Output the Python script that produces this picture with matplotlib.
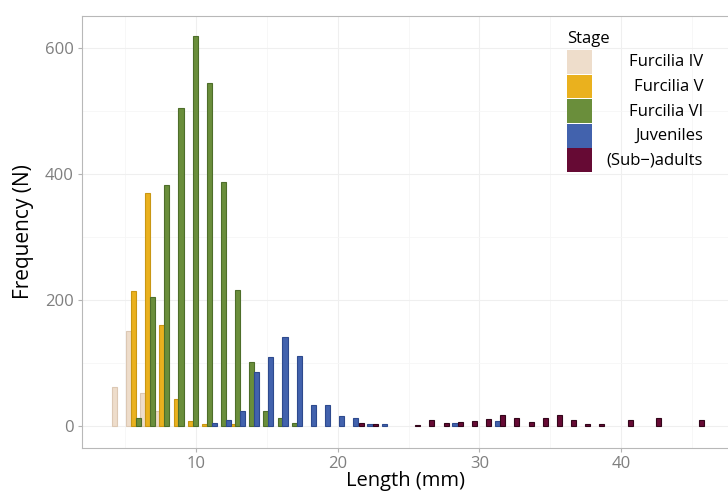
import numpy as np
import matplotlib.pyplot as plt
from matplotlib.patches import Rectangle

plt.rcParams['font.family'] = ['Open Sans', 'DejaVu Sans']

# length bins (mm) and counts per stage
stages = ["Furcilia IV", "Furcilia V", "Furcilia VI", "Juveniles", "(Sub\u2212)adults"]

len_f4 = [4, 5, 6, 7]
n_f4 = [62, 150, 53, 24]

len_f5 = [5, 6, 7, 8, 9, 10, 12]
n_f5 = [215, 370, 160, 43, 8, 3, 3]

len_f6 = [6, 7, 8, 9, 10, 11, 12, 13, 14, 15, 16, 17]
n_f6 = [12, 205, 382, 505, 620, 545, 388, 216, 102, 23, 13, 4]

len_juv = [11, 12, 13, 14, 15, 16, 17, 18, 19, 20, 21, 22, 23, 28, 31]
n_juv = [4, 10, 23, 85, 110, 141, 111, 33, 33, 16, 12, 3, 3, 4, 8]

len_ad = [21, 22, 25, 26, 27, 28, 29, 30, 31, 32, 33, 34, 35, 36, 37, 38, 40, 42, 45]
n_ad = [4, 3, 2, 10, 5, 7, 8, 11, 17, 12, 6, 12, 17, 10, 3, 3, 10, 12, 9]

lengths = [len_f4, len_f5, len_f6, len_juv, len_ad]
counts = [n_f4, n_f5, n_f6, n_juv, n_ad]

fills = ["#EEDDCB", "#EAB11E", "#6A8E3B", "#4262AD", "#660A34"]
edges = ["#DCC8B4", "#C99714", "#4E6E2A", "#2E4A8E", "#33051A"]
# dodge offset of each stage inside a length bin
offsets = [0.25, 0.6, -0.06, 0.28, 0.65]

fig = plt.figure(figsize=(7.28, 4.92), dpi=100)
ax = fig.add_axes([82 / 728, 44 / 492, 646 / 728, 432 / 492])

for L, N, fc, ec, off in zip(lengths, counts, fills, edges, offsets):
    ax.bar(np.array(L) + off, N, width=0.36, color=fc, edgecolor=ec,
           linewidth=0.8, zorder=3)

ax.set_xlim(1.95, 47.55)
ax.set_ylim(-35, 651)
ax.set_xticks([10, 20, 30, 40])
ax.set_xticks([5, 15, 25, 35, 45], minor=True)
ax.set_yticks([0, 200, 400, 600])
ax.set_yticks([100, 300, 500], minor=True)
ax.grid(which='major', color='#EFEFEF', linewidth=0.8, zorder=0)
ax.grid(which='minor', color='#F6F6F6', linewidth=0.6, zorder=0)
ax.tick_params(which='major', length=3, color='#B3B3B3', labelcolor='#7F7F7F',
               labelsize=12, pad=3)
ax.tick_params(which='minor', length=0)
for s in ['left', 'top', 'bottom']:
    ax.spines[s].set_color('#B8B8B8')
    ax.spines[s].set_linewidth(0.8)
ax.spines['right'].set_visible(False)

ax.set_xlabel('Length (mm)', fontsize=14.5, labelpad=-1)
ax.set_ylabel('Frequency (N)', fontsize=15, labelpad=8)

# legend, ggplot style with labels right-aligned
fig.text(567 / 728, 1 - 39 / 492, 'Stage', fontsize=12, va='center', ha='left')
row_h = 24.6
for i, (lab, fc) in enumerate(zip(stages, fills)):
    top = 50 + i * row_h
    fig.patches.append(Rectangle((567 / 728, 1 - (top + row_h - 0.8) / 492),
                                 25 / 728, (row_h - 0.8) / 492,
                                 transform=fig.transFigure, facecolor=fc,
                                 edgecolor='none'))
    fig.text(703 / 728, 1 - (top + row_h / 2) / 492, lab, fontsize=12,
             ha='right', va='center')

fig.savefig('out.png', dpi=100)
